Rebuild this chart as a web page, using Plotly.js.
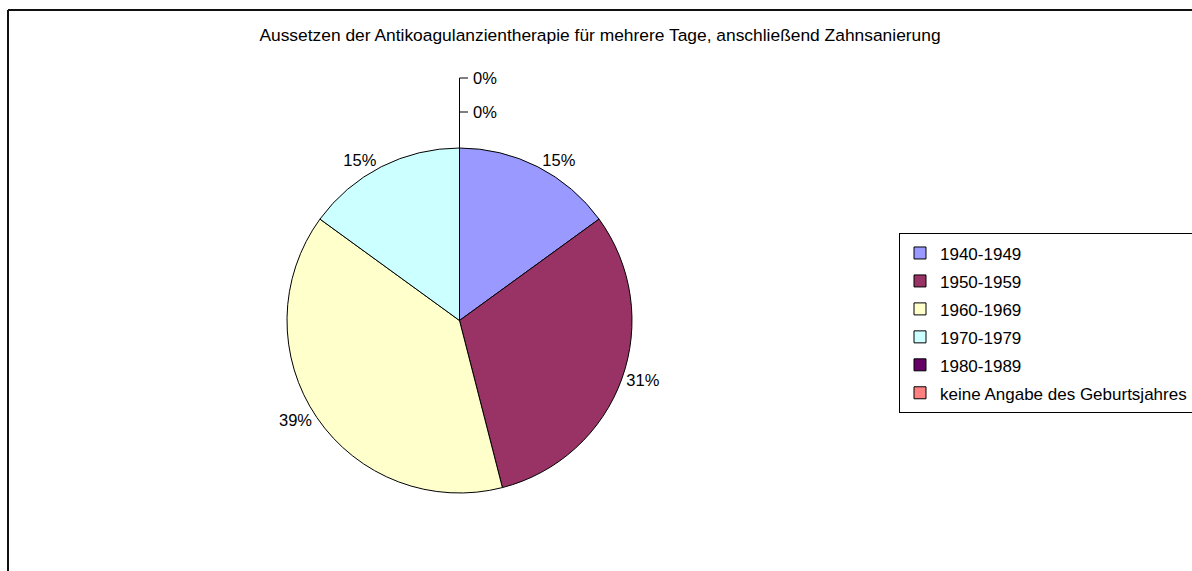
<!DOCTYPE html>
<html>
<head>
<meta charset="utf-8">
<script src="https://cdn.plot.ly/plotly-3.0.1.min.js"></script>
<style>
html,body{margin:0;padding:0;background:#fff;}
#chart{width:1192px;height:571px;}
</style>
</head>
<body>
<div id="chart"></div>
<script>
const titleText = "Aussetzen der Antikoagulanzientherapie für mehrere Tage, anschließend Zahnsanierung";
const categories = ["1940-1949", "1950-1959", "1960-1969", "1970-1979", "1980-1989", "keine Angabe des Geburtsjahres"];
const values = [15, 31, 39, 15, 0, 0];
const colors = ["#9999FF", "#993366", "#FFFFCC", "#CCFFFF", "#660066", "#FF8080"];

const W = 1192, H = 571;
const px = x => x / W;
const py = y => 1 - y / H;
const FONT = "Liberation Sans, Arial, sans-serif";

const total = values.reduce((a, b) => a + b, 0);
const pctText = values.map(v => Math.round(v / total * 100) + "%");
const legendLabels = categories.map(c => '<span style="font-size:17px">' + c + '</span>');

const trace = {
  type: "pie",
  labels: legendLabels,
  values: values,
  sort: false,
  direction: "clockwise",
  rotation: 0,
  marker: {colors: colors, line: {color: "#000", width: 1}},
  text: pctText,
  textinfo: "text",
  textposition: values.map(v => v > 0 ? "outside" : "none"),
  outsidetextfont: {family: FONT, size: 16.5, color: "#000"},
  hoverinfo: "label+percent",
  domain: {x: [px(287), px(632)], y: [py(493), py(148)]},
  automargin: false
};

// zero-value slices: labels stacked above the pie top with leader ticks
const zeroIdx = values.map((v, i) => v === 0 ? i : -1).filter(i => i >= 0);
const zeroY = [112, 78];
const annotations = [];
const shapes = [];
if (zeroIdx.length) {
  shapes.push({type: "line", xref: "paper", yref: "paper",
    x0: px(459.5), x1: px(459.5), y0: py(148), y1: py(zeroY[zeroIdx.length - 1]),
    line: {color: "#000", width: 1}});
}
zeroIdx.forEach((idx, k) => {
  const yy = zeroY[k];
  shapes.push({type: "line", xref: "paper", yref: "paper",
    x0: px(459.5), x1: px(468), y0: py(yy), y1: py(yy),
    line: {color: "#000", width: 1}});
  annotations.push({xref: "paper", yref: "paper", x: px(471), y: py(yy),
    xanchor: "left", yanchor: "middle", showarrow: false, text: pctText[idx],
    font: {family: FONT, size: 16.5, color: "#000"}});
});

// chart frame (top and left edges visible)
shapes.push({type: "line", xref: "paper", yref: "paper", x0: px(8), x1: 1.01, y0: py(10), y1: py(10), line: {color: "#111", width: 2}});
shapes.push({type: "line", xref: "paper", yref: "paper", x0: px(8), x1: px(8), y0: py(10), y1: -0.01, line: {color: "#111", width: 2}});

const layout = {
  width: W, height: H,
  margin: {l: 0, r: 0, t: 0, b: 0, autoexpand: false},
  paper_bgcolor: "#fff",
  font: {family: FONT, color: "#000"},
  title: {text: titleText, x: px(600), xanchor: "center", y: py(35), yanchor: "middle",
    font: {family: FONT, size: 17.4, color: "#000"}},
  showlegend: true,
  legend: {x: px(899), xanchor: "left", y: py(233), yanchor: "top",
    bgcolor: "#fff", bordercolor: "#000", borderwidth: 1,
    font: {family: FONT, size: 19.2, color: "#000"}, traceorder: "normal"},
  shapes: shapes,
  annotations: annotations
};

Plotly.newPlot("chart", [trace], layout, {displayModeBar: false, staticPlot: true});
</script>
</body>
</html>
